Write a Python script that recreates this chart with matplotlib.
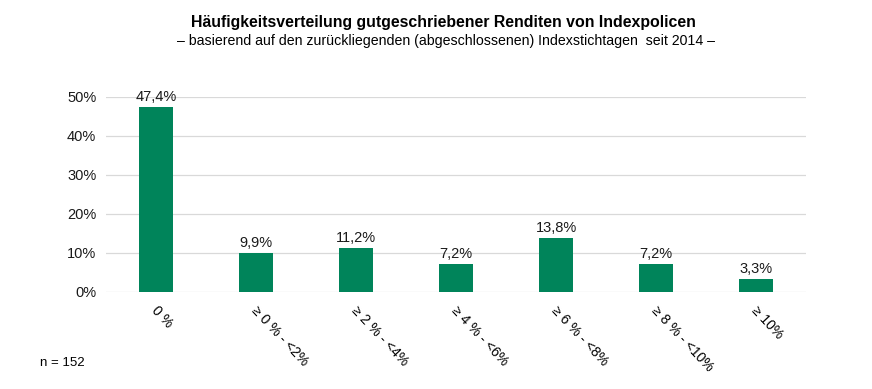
import matplotlib
matplotlib.use("Agg")
import matplotlib.pyplot as plt
from matplotlib.ticker import FuncFormatter
from matplotlib import transforms

plt.rcParams['font.family'] = ['Liberation Sans', 'DejaVu Sans']

categories = ["0 %", "≥ 0 % - <2%", "≥ 2 % - <4%", "≥ 4 % - <6%", "≥ 6 % - <8%", "≥ 8 % - <10%", "≥ 10%"]
values = [47.4, 9.9, 11.2, 7.2, 13.8, 7.2, 3.3]
labels = ["47,4%", "9,9%", "11,2%", "7,2%", "13,8%", "7,2%", "3,3%"]
yticks = [0, 10, 20, 30, 40, 50]

fig = plt.figure(figsize=(8.72, 3.89), dpi=100)
ax = fig.add_axes([0.1216, 0.2494, 0.8028, 0.5013])

x = list(range(len(categories)))
ax.bar(x, values, width=0.34, color='#00845A', zorder=3)
for xi, v, l in zip(x, values, labels):
    ax.text(xi, v + 0.8, l, ha='center', va='bottom', fontsize=10.5, color='#1a1a1a')

ax.set_xlim(-0.5, len(categories) - 0.5)
ax.set_ylim(0, 50)
ax.set_yticks(yticks)
ax.yaxis.set_major_formatter(FuncFormatter(lambda v, p: f"{int(v)}%"))
ax.grid(axis='y', color='#d9d9d9', linewidth=0.9, zorder=0)
for s in ['top', 'right', 'left', 'bottom']:
    ax.spines[s].set_visible(False)
ax.tick_params(axis='y', length=0, labelsize=10.5, pad=7, colors='#1a1a1a')
ax.tick_params(axis='x', length=0)
ax.set_xticks(x)
ax.set_xticklabels(categories)
offset = transforms.ScaledTranslation(3/100, -7/100, fig.dpi_scale_trans)
for t in ax.get_xticklabels():
    t.set_rotation(-47)
    t.set_ha('left')
    t.set_va('top')
    t.set_rotation_mode('anchor')
    t.set_fontsize(10)
    t.set_transform(t.get_transform() + offset)

fig.text(0.508, 0.941, "Häufigkeitsverteilung gutgeschriebener Renditen von Indexpolicen",
         ha='center', va='center', fontsize=11.4, fontweight='bold')
fig.text(0.511, 0.895, "– basierend auf den zurückliegenden (abgeschlossenen) Indexstichtagen  seit 2014 –",
         ha='center', va='center', fontsize=10.2)
fig.text(0.046, 0.067, "n = 152", ha='left', va='center', fontsize=9.5)

fig.savefig("out.png", dpi=100)
